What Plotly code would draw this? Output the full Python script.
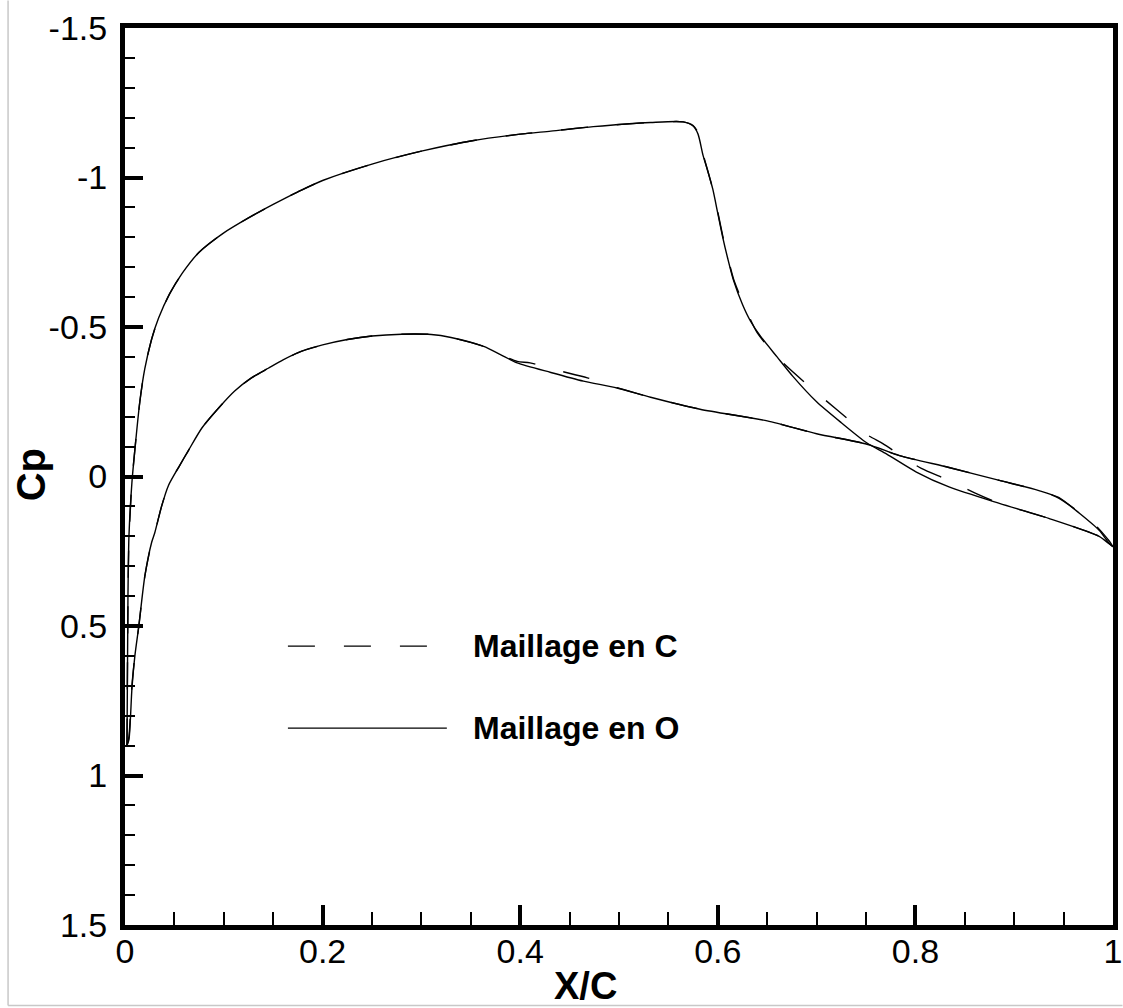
import plotly.graph_objects as go

# ---- data (X/C, Cp) ----
upper_o_x = [0.002, 0.003, 0.004, 0.007, 0.010, 0.015, 0.020, 0.027, 0.034, 0.045, 0.058, 0.075,
             0.100, 0.125, 0.150, 0.175, 0.200, 0.250, 0.300, 0.350, 0.400, 0.431, 0.474, 0.532,
             0.565, 0.575, 0.580, 0.585, 0.590, 0.595, 0.600, 0.605, 0.610, 0.616, 0.625, 0.633,
             0.643, 0.660, 0.676, 0.700, 0.725, 0.751, 0.771, 0.801, 0.834, 0.885, 0.935, 0.986,
             0.996, 1.000]
upper_o_cp = [0.90, 0.40, 0.20, 0.02, -0.09, -0.25, -0.36, -0.46, -0.53, -0.61, -0.68, -0.75,
              -0.815, -0.865, -0.91, -0.952, -0.99, -1.045, -1.088, -1.122, -1.145, -1.155, -1.170, -1.184,
              -1.186, -1.172, -1.145, -1.075, -1.02, -0.96, -0.88, -0.80, -0.73, -0.655, -0.575, -0.52,
              -0.47, -0.40, -0.335, -0.25, -0.18, -0.112, -0.075, -0.015, 0.035, 0.09, 0.14, 0.20,
              0.225, 0.235]

lower_o_x = [0.002, 0.004, 0.007, 0.010, 0.014, 0.020, 0.027, 0.030, 0.037, 0.044, 0.055, 0.064,
             0.078, 0.095, 0.111, 0.128, 0.145, 0.160, 0.179, 0.200, 0.225, 0.250, 0.280, 0.310,
             0.330, 0.363, 0.380, 0.397, 0.431, 0.464, 0.498, 0.532, 0.582, 0.650, 0.700, 0.751,
             0.784, 0.834, 0.885, 0.925, 0.945, 0.966, 0.986, 0.996, 1.000]
lower_o_cp = [0.90, 0.88, 0.71, 0.60, 0.50, 0.335, 0.22, 0.19, 0.10, 0.03, -0.035, -0.086,
              -0.163, -0.23, -0.286, -0.33, -0.362, -0.39, -0.419, -0.44, -0.458, -0.47, -0.476, -0.475,
              -0.465, -0.435, -0.408, -0.38, -0.348, -0.319, -0.296, -0.265, -0.225, -0.186, -0.143, -0.108,
              -0.07, -0.03, 0.013, 0.047, 0.07, 0.123, 0.18, 0.223, 0.235]

upper_c_x = [0.002, 0.003, 0.004, 0.007, 0.010, 0.015, 0.020, 0.027, 0.034, 0.045, 0.058, 0.075,
             0.100, 0.125, 0.150, 0.175, 0.200, 0.250, 0.300, 0.350, 0.400, 0.431, 0.474, 0.532,
             0.565, 0.575, 0.580, 0.585, 0.590, 0.595, 0.600, 0.605, 0.610, 0.616, 0.625, 0.640,
             0.663, 0.693, 0.720, 0.751, 0.767, 0.790, 0.806, 0.834, 0.860, 0.885, 0.935, 0.986,
             0.996, 1.000]
upper_c_cp = [0.90, 0.42, 0.21, 0.02, -0.09, -0.25, -0.36, -0.46, -0.53, -0.61, -0.68, -0.75,
              -0.815, -0.865, -0.91, -0.952, -0.99, -1.045, -1.088, -1.122, -1.145, -1.155, -1.170, -1.184,
              -1.186, -1.174, -1.15, -1.08, -1.02, -0.96, -0.885, -0.805, -0.735, -0.66, -0.585, -0.48,
              -0.39, -0.30, -0.225, -0.14, -0.11, -0.06, -0.027, 0.013, 0.055, 0.09, 0.14, 0.20,
              0.225, 0.235]

lower_c_x = [0.002, 0.004, 0.007, 0.010, 0.014, 0.020, 0.027, 0.030, 0.037, 0.044, 0.055, 0.064,
             0.078, 0.095, 0.111, 0.128, 0.145, 0.160, 0.179, 0.200, 0.225, 0.250, 0.280, 0.310,
             0.330, 0.363, 0.380, 0.397, 0.410, 0.438, 0.468, 0.495, 0.532, 0.582, 0.650, 0.700,
             0.751, 0.784, 0.834, 0.885, 0.925, 0.945, 0.966, 0.980, 0.996, 1.000]
lower_c_cp = [0.90, 0.87, 0.70, 0.60, 0.50, 0.335, 0.22, 0.19, 0.10, 0.03, -0.035, -0.086,
              -0.163, -0.23, -0.286, -0.33, -0.362, -0.39, -0.419, -0.44, -0.458, -0.47, -0.476, -0.475,
              -0.465, -0.435, -0.408, -0.385, -0.38, -0.355, -0.33, -0.30, -0.265, -0.225, -0.186, -0.143,
              -0.108, -0.07, -0.03, 0.013, 0.047, 0.072, 0.12, 0.155, 0.215, 0.235]

legend_labels = ["Maillage en C", "Maillage en O"]
x_ticks = [0, 0.2, 0.4, 0.6, 0.8, 1]
x_ticktext = ["0", "0.2", "0.4", "0.6", "0.8", "1"]
y_ticks = [-1.5, -1, -0.5, 0, 0.5, 1, 1.5]
y_ticktext = ["-1.5", "-1", "-0.5", "0", "0.5", "1", "1.5"]

FONT = "Liberation Sans, Arial, sans-serif"
W, H = 1123, 1008
L, R, T, B = 125, 9.5, 27.5, 83
PW, PH = W - L - R, H - T - B


def px_x(p):
    return (p - L) / PW


def px_y(p):
    return (H - B - p) / PH


fig = go.Figure()
line_c = dict(color="black", width=1.4, dash="27px,29px")
line_o = dict(color="black", width=1.4)
for xs, ys, ln in [(upper_o_x, upper_o_cp, line_o), (lower_o_x, lower_o_cp, line_o),
                   (upper_c_x, upper_c_cp, line_c), (lower_c_x, lower_c_cp, line_c)]:
    fig.add_trace(go.Scatter(x=xs, y=ys, mode="lines", line=ln, line_shape="spline",
                             line_smoothing=0.7, showlegend=False))

shapes = [
    # legend samples
    dict(type="line", xref="paper", yref="paper", x0=px_x(288), x1=px_x(430), y0=px_y(646), y1=px_y(646),
         line=dict(color="black", width=1.4, dash="27px,29px")),
    dict(type="line", xref="paper", yref="paper", x0=px_x(288), x1=px_x(447), y0=px_y(728), y1=px_y(728),
         line=dict(color="black", width=1.4)),
    # light frame of the picture
    dict(type="line", xref="paper", yref="paper", x0=px_x(8), x1=px_x(8), y0=px_y(0), y1=px_y(1005.5),
         line=dict(color="#c8c8c8", width=1.5)),
    dict(type="line", xref="paper", yref="paper", x0=px_x(8), x1=px_x(1123), y0=px_y(1005.5), y1=px_y(1005.5),
         line=dict(color="#c8c8c8", width=1.5)),
]

annotations = [
    dict(text="<b>%s</b>" % legend_labels[0], xref="paper", yref="paper", x=px_x(471), y=px_y(646),
         xanchor="left", yanchor="middle", showarrow=False, font=dict(family=FONT, size=32, color="black")),
    dict(text="<b>%s</b>" % legend_labels[1], xref="paper", yref="paper", x=px_x(471), y=px_y(728),
         xanchor="left", yanchor="middle", showarrow=False, font=dict(family=FONT, size=32, color="black")),
    dict(text="<b>Cp</b>", xref="paper", yref="paper", x=px_x(31), y=px_y(475), textangle=-90,
         xanchor="center", yanchor="middle", showarrow=False, font=dict(family=FONT, size=40, color="black")),
    dict(text="<b>X/C</b>", xref="paper", yref="paper", x=px_x(586), y=px_y(986),
         xanchor="center", yanchor="middle", showarrow=False, font=dict(family=FONT, size=38, color="black")),
]

fig.update_layout(
    width=W, height=H,
    margin=dict(l=L, r=R, t=T, b=B, pad=0, autoexpand=False),
    paper_bgcolor="white", plot_bgcolor="white",
    shapes=shapes, annotations=annotations,
    showlegend=False,
)
fig.update_xaxes(
    range=[0, 1], tickvals=x_ticks, ticktext=x_ticktext, automargin=False,
    showgrid=False, zeroline=False,
    showline=True, linewidth=5, linecolor="black", mirror=True,
    ticks="inside", ticklen=20, tickwidth=4, tickcolor="black",
    tickfont=dict(family=FONT, size=34, color="black"),
    ticklabelstandoff=-8,
    minor=dict(dtick=0.05, tick0=0, ticks="inside", ticklen=13, tickwidth=2, tickcolor="black", showgrid=False),
)
fig.update_yaxes(
    range=[1.5, -1.5], tickvals=y_ticks, ticktext=y_ticktext, automargin=False,
    showgrid=False, zeroline=False,
    showline=True, linewidth=5, linecolor="black", mirror=True,
    ticks="inside", ticklen=18, tickwidth=4, tickcolor="black",
    tickfont=dict(family=FONT, size=34, color="black"),
    ticklabelstandoff=6,
    minor=dict(dtick=0.1, tick0=0, ticks="inside", ticklen=10, tickwidth=2, tickcolor="black", showgrid=False),
)

fig.write_html("out.html")
